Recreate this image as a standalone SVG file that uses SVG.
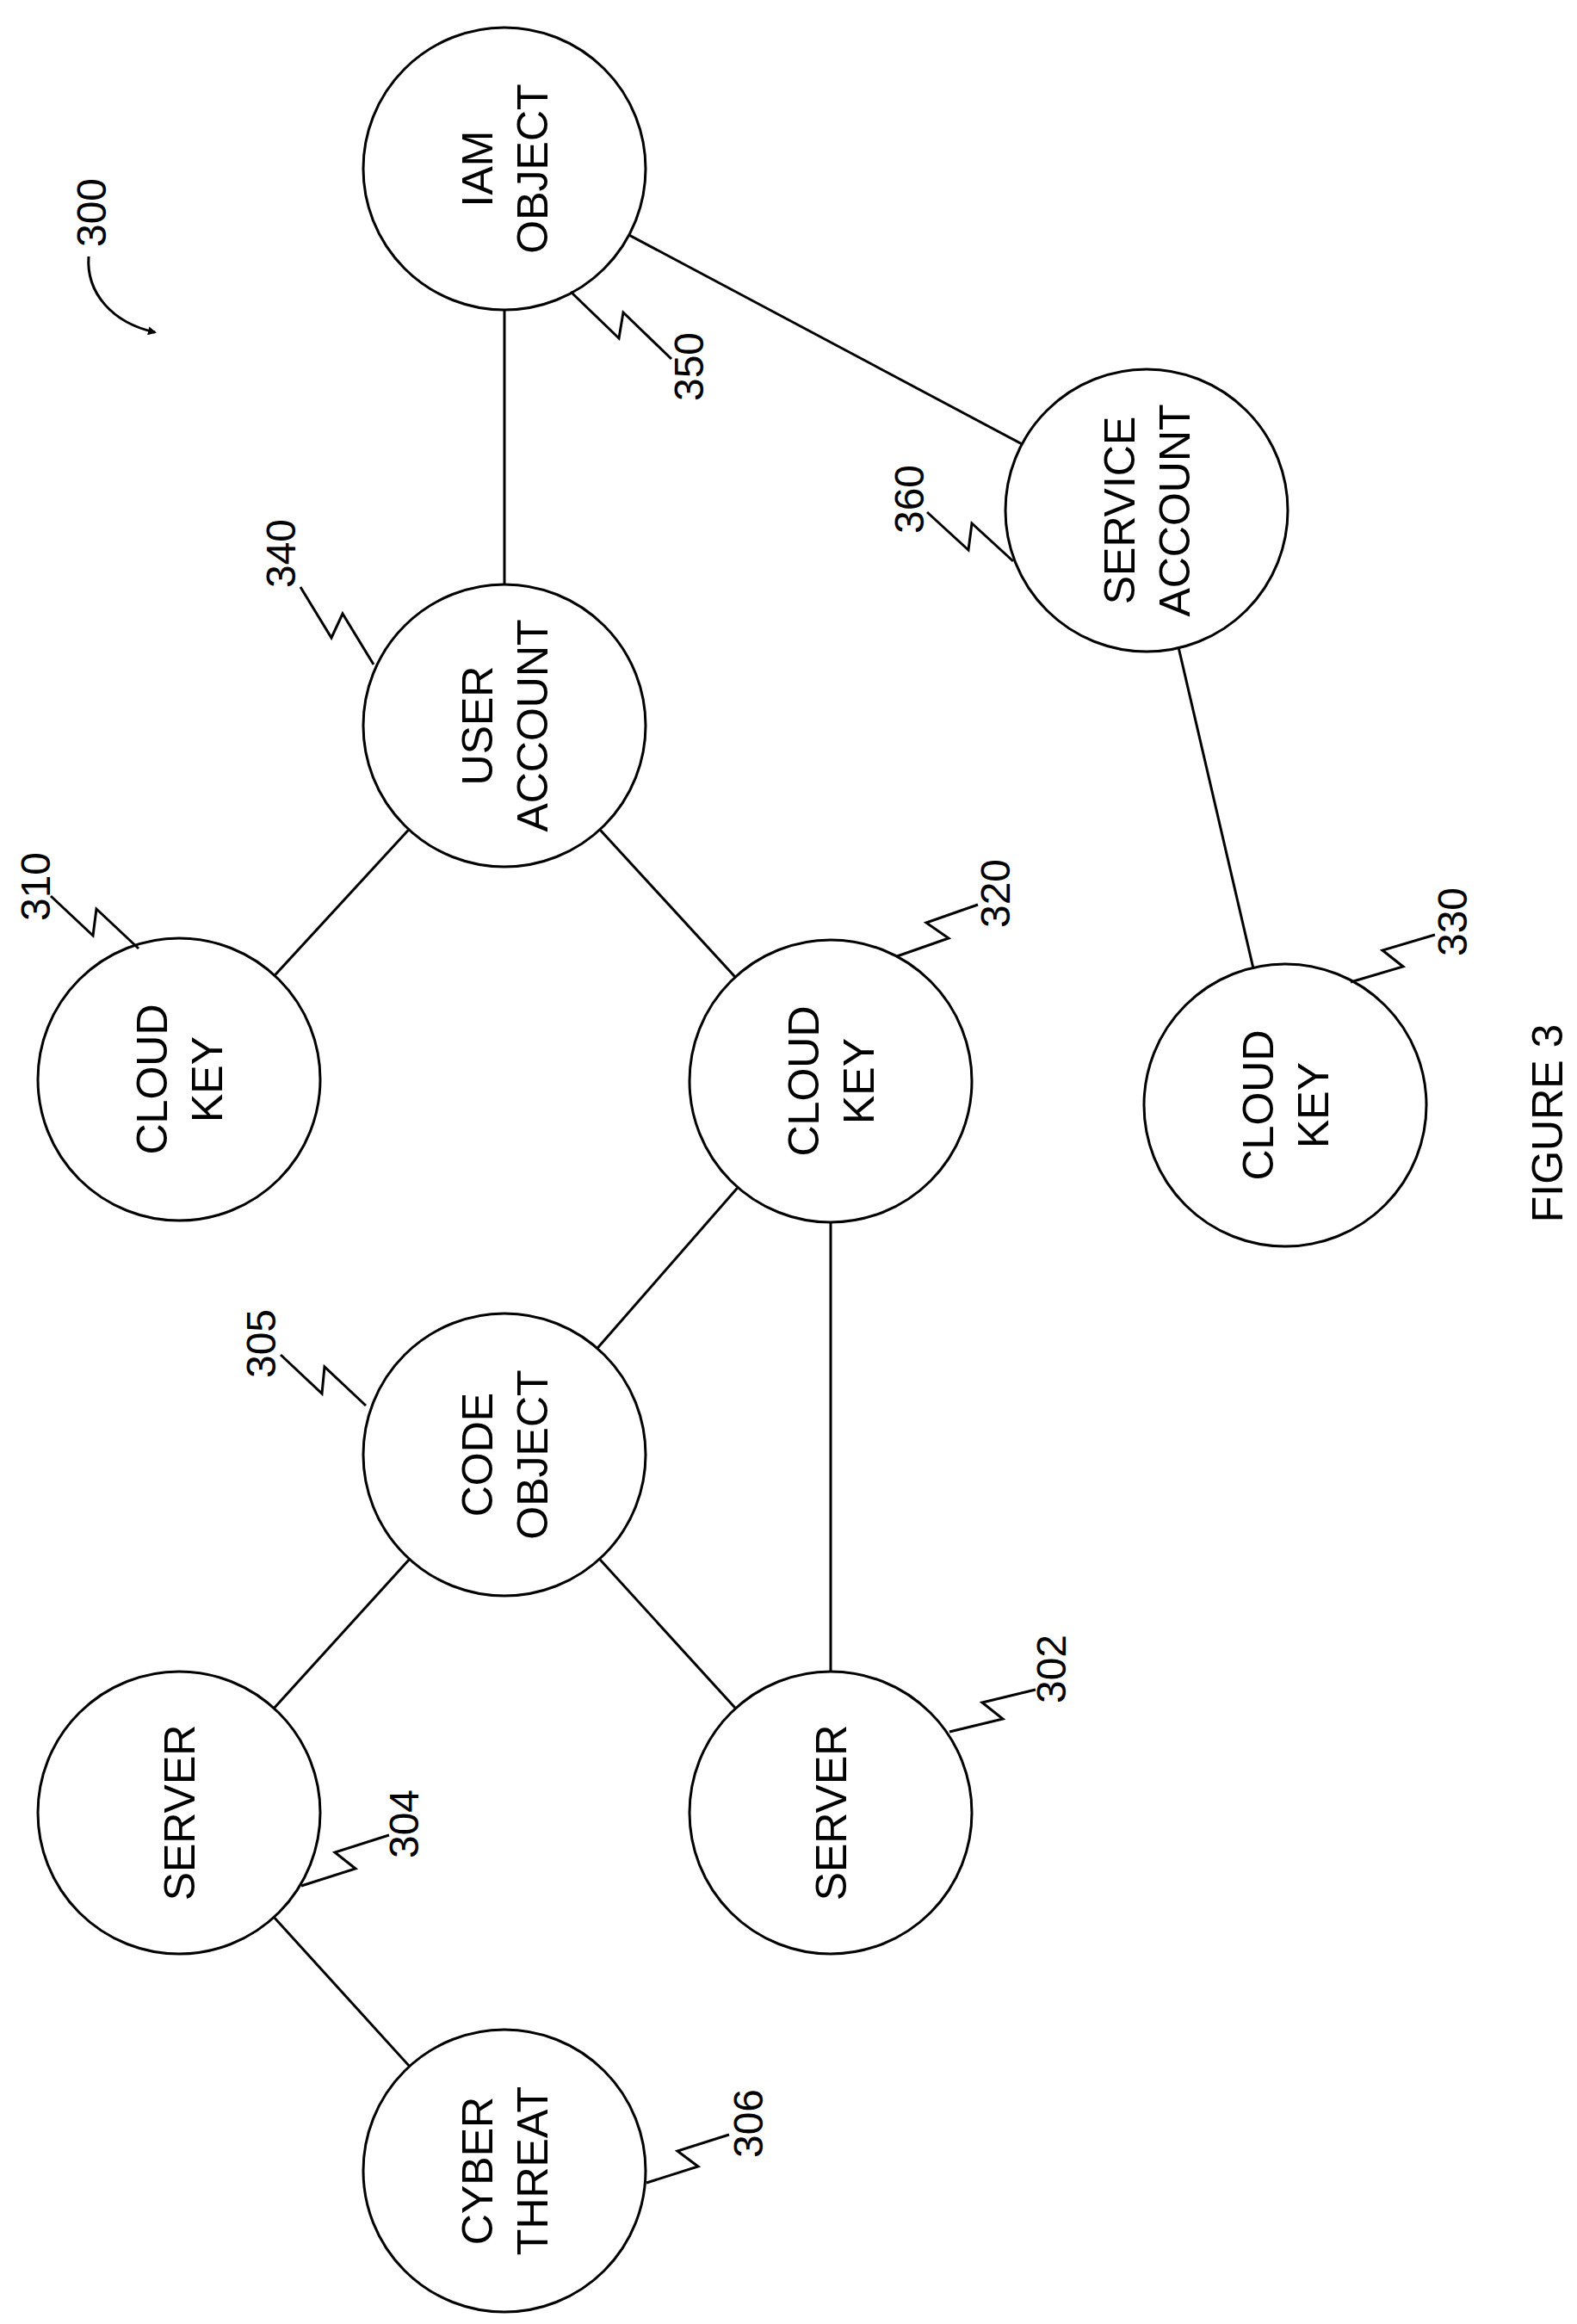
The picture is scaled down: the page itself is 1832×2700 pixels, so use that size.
<svg xmlns="http://www.w3.org/2000/svg" width="1832" height="2700" viewBox="0 0 1832 2700">
<style>
.n{fill:#fff;stroke:#000;stroke-width:3}
.e line{stroke:#000;stroke-width:3}
.ld{fill:none;stroke:#000;stroke-width:3;stroke-linejoin:miter}
.t{font-family:"Liberation Sans",Arial,sans-serif;font-size:50px;text-anchor:middle}
.l{font-family:"Liberation Sans",Arial,sans-serif;font-size:48px;text-anchor:middle}
</style>
<defs><marker id="ah" markerWidth="10" markerHeight="10" refX="8" refY="5" orient="auto" markerUnits="userSpaceOnUse" viewBox="0 0 10 10"><path d="M0,0 L10,5 L0,10 z" fill="#000"/></marker></defs>
<rect width="1832" height="2700" fill="#fff"/>
<g id="connectors" class="e">
<line x1="586" y1="196" x2="586" y2="843"/>
<line x1="586" y1="196" x2="1332" y2="593"/>
<line x1="586" y1="843" x2="208" y2="1254"/>
<line x1="586" y1="843" x2="965" y2="1256"/>
<line x1="1332" y1="593" x2="1493" y2="1284"/>
<line x1="965" y1="1256" x2="586" y2="1690"/>
<line x1="965" y1="1256" x2="965" y2="2106"/>
<line x1="586" y1="1690" x2="208" y2="2106"/>
<line x1="586" y1="1690" x2="965" y2="2106"/>
<line x1="208" y1="2106" x2="586" y2="2522"/>
</g>
<g id="n350"><circle class="n" cx="586" cy="196" r="164"/><text class="t" transform="translate(586,196) rotate(-90)"><tspan x="0" y="-14">IAM</tspan><tspan x="0" y="50">OBJECT</tspan></text></g>
<g id="n340"><circle class="n" cx="586" cy="843" r="164"/><text class="t" transform="translate(586,843) rotate(-90)"><tspan x="0" y="-14">USER</tspan><tspan x="0" y="50">ACCOUNT</tspan></text></g>
<g id="n360"><circle class="n" cx="1332" cy="593" r="164"/><text class="t" transform="translate(1332,593) rotate(-90)"><tspan x="0" y="-14">SERVICE</tspan><tspan x="0" y="50">ACCOUNT</tspan></text></g>
<g id="n310"><circle class="n" cx="208" cy="1254" r="164"/><text class="t" transform="translate(208,1254) rotate(-90)"><tspan x="0" y="-14">CLOUD</tspan><tspan x="0" y="50">KEY</tspan></text></g>
<g id="n320"><circle class="n" cx="965" cy="1256" r="164"/><text class="t" transform="translate(965,1256) rotate(-90)"><tspan x="0" y="-14">CLOUD</tspan><tspan x="0" y="50">KEY</tspan></text></g>
<g id="n330"><circle class="n" cx="1493" cy="1284" r="164"/><text class="t" transform="translate(1493,1284) rotate(-90)"><tspan x="0" y="-14">CLOUD</tspan><tspan x="0" y="50">KEY</tspan></text></g>
<g id="n305"><circle class="n" cx="586" cy="1690" r="164"/><text class="t" transform="translate(586,1690) rotate(-90)"><tspan x="0" y="-14">CODE</tspan><tspan x="0" y="50">OBJECT</tspan></text></g>
<g id="n304"><circle class="n" cx="208" cy="2106" r="164"/><text class="t" transform="translate(208,2106) rotate(-90)" y="18">SERVER</text></g>
<g id="n302"><circle class="n" cx="965" cy="2106" r="164"/><text class="t" transform="translate(965,2106) rotate(-90)" y="18">SERVER</text></g>
<g id="n306"><circle class="n" cx="586" cy="2522" r="164"/><text class="t" transform="translate(586,2522) rotate(-90)"><tspan x="0" y="-14">CYBER</tspan><tspan x="0" y="50">THREAT</tspan></text></g>
<g id="leaders">
<path class="ld" d="M663,339 L719,393 L724,363 L780,417"/>
<path class="ld" d="M434,772 L398,713 L385,741 L349,682"/>
<path class="ld" d="M1177,652 L1129,608 L1125,639 L1077,595"/>
<path class="ld" d="M161,1102 L112,1056 L108,1087 L59,1041"/>
<path class="ld" d="M1042,1111 L1102,1090 L1076,1072 L1136,1051"/>
<path class="ld" d="M1569,1141 L1630,1123 L1606,1104 L1667,1086"/>
<path class="ld" d="M425,1633 L377,1588 L374,1619 L326,1574"/>
<path class="ld" d="M350,2191 L413,2171 L389,2152 L452,2132"/>
<path class="ld" d="M1103,2012 L1165,1997 L1141,1978 L1203,1963"/>
<path class="ld" d="M751,2536 L811,2517 L787,2499 L847,2480"/>
<path class="ld" d="M103,298 C100,340 130,375 180,386" marker-end="url(#ah)"/>
</g>
<g id="labels">
<text class="l" transform="translate(106,247) rotate(-90)" y="17">300</text>
<text class="l" transform="translate(800,426) rotate(-90)" y="17">350</text>
<text class="l" transform="translate(326,643) rotate(-90)" y="17">340</text>
<text class="l" transform="translate(1056,580) rotate(-90)" y="17">360</text>
<text class="l" transform="translate(41,1030) rotate(-90)" y="17">310</text>
<text class="l" transform="translate(1156,1038) rotate(-90)" y="17">320</text>
<text class="l" transform="translate(1687,1071) rotate(-90)" y="17">330</text>
<text class="l" transform="translate(303,1561) rotate(-90)" y="17">305</text>
<text class="l" transform="translate(469,2119) rotate(-90)" y="17">304</text>
<text class="l" transform="translate(1221,1939) rotate(-90)" y="17">302</text>
<text class="l" transform="translate(869,2467) rotate(-90)" y="17">306</text>
<text class="t" transform="translate(1797,1305) rotate(-90)" y="18">FIGURE 3</text>
</g>
</svg>
